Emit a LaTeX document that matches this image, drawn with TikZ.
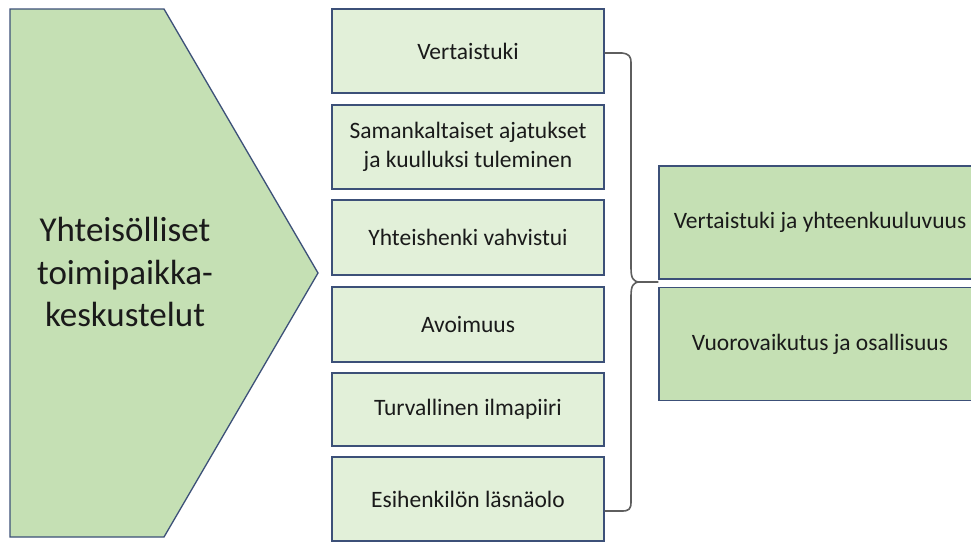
\documentclass[tikz,border=0pt]{standalone}
\usepackage{fontspec}
\setmainfont{Carlito}
\definecolor{edge}{HTML}{3C5078}
\definecolor{fillmid}{HTML}{C5E0B4}
\definecolor{filllight}{HTML}{E2F0D9}
\definecolor{bracecol}{HTML}{5E5E5E}
\definecolor{ink}{HTML}{1A1A1A}
\tikzset{
  itembox/.style={draw=edge, line width=1.3pt, fill=filllight, rectangle,
    inner sep=0pt, minimum width=272pt, text=ink, align=center,
    font=\fontsize{23.5}{28.7}\selectfont},
  resultbox/.style={draw=edge, line width=1.3pt, fill=fillmid, rectangle,
    inner sep=0pt, minimum width=322pt, text=ink, align=center,
    font=\fontsize{23.5}{28.7}\selectfont},
  bracket/.style={draw=bracecol, line width=1.6pt, line join=round},
}
\begin{document}
\begin{tikzpicture}[x=1pt, y=-1pt]
  \clip (0,0) rectangle (971,542);
  \fill[white] (0,0) rectangle (971,542);

  % pentagon arrow on the left
  \draw[edge, line width=1.3pt, fill=fillmid, line join=miter]
    (10,9) -- (164,9) -- (318,273) -- (164,537) -- (10,537) -- cycle;
  \node[text=ink, align=center, font=\fontsize{35}{42.5}\selectfont] (main) at (125,272)
    {Yhteisölliset\\toimipaikka-\\keskustelut};

  % middle column of items
  \node[itembox, minimum height=84pt] (b1) at (468,51) {Vertaistuki};
  \node[itembox, minimum height=84pt] (b2) at (468,147) {Samankaltaiset ajatukset\\ja kuulluksi tuleminen};
  \node[itembox, minimum height=75pt] (b3) at (468,237.5) {Yhteishenki vahvistui};
  \node[itembox, minimum height=75pt] (b4) at (468,324.5) {Avoimuus};
  \node[itembox, minimum height=73pt] (b5) at (468,409.5) {Turvallinen ilmapiiri};
  \node[itembox, minimum height=84pt] (b6) at (468,499) {Esihenkilön läsnäolo};

  % results on the right
  \node[resultbox, minimum height=113pt] (r1) at (820,222.5) {Vertaistuki ja yhteenkuuluvuus};
  \node[resultbox, minimum height=113pt] (r2) at (820,344) {Vuorovaikutus ja osallisuus};

  % curly bracket gathering the items
  \coordinate (bt) at (b1.east |- 0,53);
  \coordinate (bb) at (b6.east |- 0,511);
  \coordinate (tip) at (r1.west |- 0,282);
  \coordinate (mid) at (640,282);
  \draw[bracket] (bt) -- (622,53) .. controls (629,54) and (631,56) .. (631,63)
    -- (631,268) .. controls (631,278) and (633,282) .. (mid) -- (tip);
  \draw[bracket] (mid) .. controls (633,282) and (631,286) .. (631,296)
    -- (631,502) .. controls (631,509) and (629,511) .. (622,511) -- (bb);
\end{tikzpicture}
\end{document}
